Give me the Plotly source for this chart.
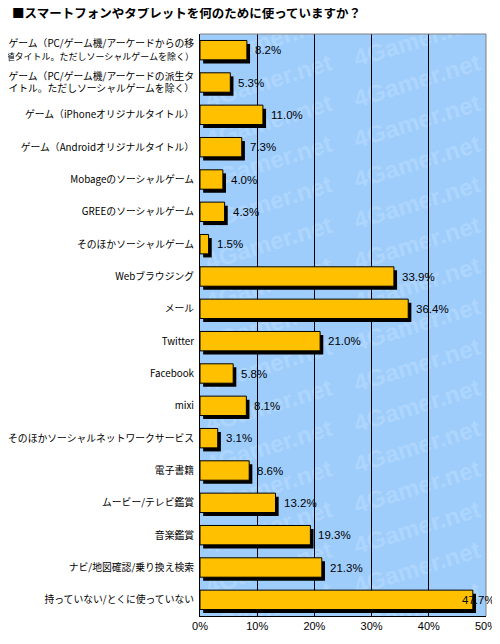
import plotly.graph_objects as go

title_text = "■スマートフォンやタブレットを何のために使っていますか？"
categories = [
    "ゲーム（PC/ゲーム機/アーケードからの移<br>植タイトル。ただしソーシャルゲームを除く）",
    "ゲーム（PC/ゲーム機/アーケードの派生タ<br>イトル。ただしソーシャルゲームを除く）",
    "ゲーム（iPhoneオリジナルタイトル）",
    "ゲーム（Androidオリジナルタイトル）",
    "Mobageのソーシャルゲーム",
    "GREEのソーシャルゲーム",
    "そのほかソーシャルゲーム",
    "Webブラウジング",
    "メール",
    "Twitter",
    "Facebook",
    "mixi",
    "そのほかソーシャルネットワークサービス",
    "電子書籍",
    "ムービー/テレビ鑑賞",
    "音楽鑑賞",
    "ナビ/地図確認/乗り換え検索",
    "持っていない/とくに使っていない",
]
values = [8.2, 5.3, 11.0, 7.3, 4.0, 4.3, 1.5, 33.9, 36.4, 21.0,
          5.8, 8.1, 3.1, 8.6, 13.2, 19.3, 21.3, 47.7]
tick_vals = [0, 10, 20, 30, 40, 50]
tick_text = ["0%", "10%", "20%", "30%", "40%", "50%"]
watermark_text = "4Gamer.net"

# style constants (page body has an 8px default margin, so figure is 492x636)
W, H = 492, 636
BAR_W = 0.6
SHADOW_DX = 0.55   # x units (~3px)
SHADOW_DY = 0.11   # category units (~3.5px)
BG = "#9ECDFC"
WM = "#ADD5FD"
BAR = "#FFC000"
NUM_FONT = "Liberation Sans Narrow, Liberation Sans, Arial"
JP_FONT = "Noto Sans CJK JP"

n = len(categories)


def em_width(s):
    return sum(0.55 if ord(ch) < 128 else 1.0 for ch in s)


def fit_label(label):
    # shrink very long lines slightly so they fit in the left margin
    out = []
    for p in label.split("<br>"):
        if em_width(p) > 20:
            out.append(f'<span style="font-size:9px">{p}</span>')
        else:
            out.append(p)
    return "<br>".join(out)


display_labels = [fit_label(c) for c in categories]

fig = go.Figure()

# shadow
fig.add_trace(go.Bar(
    orientation="h", y=categories, x=values, base=SHADOW_DX,
    width=BAR_W, offset=-BAR_W / 2 + SHADOW_DY,
    marker=dict(color="black", line=dict(width=0)),
    hoverinfo="skip", showlegend=False,
))
# main bars
fig.add_trace(go.Bar(
    orientation="h", y=categories, x=values,
    width=BAR_W, offset=-BAR_W / 2,
    marker=dict(color=BAR, line=dict(color="black", width=1)),
    showlegend=False,
))

# value labels
xmax = tick_vals[-1]
for c, v in zip(categories, values):
    if v > xmax * 0.9:
        fig.add_annotation(x=1.038, xref="paper", y=c, yref="y",
                           text=f"{v:.1f}%", showarrow=False, xanchor="right",
                           font=dict(family=NUM_FONT, size=11.5, color="black"))
    else:
        fig.add_annotation(x=v, y=c, text=f"{v:.1f}%", showarrow=False,
                           xanchor="left", xshift=6,
                           font=dict(family=NUM_FONT, size=11.5, color="black"))

# watermark (background decoration)
wm_cols = [11.9, 37.8]
k = 0
while -0.38 + 1.256 * k < n + 1:
    cy = -0.38 + 1.256 * k
    for cx in wm_cols:
        fig.add_shape(type="rect", xref="x", yref="y",
                      x0=cx - 0.5, x1=cx + 0.5, y0=cy - 0.05, y1=cy + 0.05,
                      line=dict(width=0), fillcolor="rgba(0,0,0,0)", layer="below",
                      label=dict(text=f"<b>{watermark_text}</b>", textangle=-17,
                                 textposition="middle center",
                                 font=dict(family="Liberation Sans",
                                           size=24, color=WM)))
    k += 1

# top and right gray border
fig.add_shape(type="line", xref="paper", yref="paper", x0=0, x1=1, y0=1, y1=1,
              line=dict(color="#808080", width=1), layer="above")
fig.add_shape(type="line", xref="paper", yref="paper", x0=1, x1=1, y0=0, y1=1,
              line=dict(color="#808080", width=1), layer="above")

fig.update_layout(
    width=W, height=H,
    margin=dict(l=192, r=14, t=26, b=28),
    paper_bgcolor="white", plot_bgcolor=BG,
    barmode="overlay",
    title=dict(text=f"<b>{title_text}</b>", x=4 / W, xanchor="left",
               xref="container", yref="container", y=1 - 6 / H, yanchor="middle",
               font=dict(family=JP_FONT, size=12.5, color="black")),
    xaxis=dict(range=[0, 50], tickvals=tick_vals, ticktext=tick_text,
               showgrid=True, gridcolor="black", gridwidth=1,
               showline=True, linecolor="black", linewidth=1,
               ticks="", zeroline=False, fixedrange=True, automargin=False,
               tickfont=dict(family=NUM_FONT, size=11, color="black")),
    yaxis=dict(range=[n - 0.5, -0.5], autorange=False, showgrid=False, showline=True,
               linecolor="black", linewidth=1, ticks="", ticklabelstandoff=3,
               automargin=False, fixedrange=True,
               tickmode="array", tickvals=categories, ticktext=display_labels,
               tickfont=dict(family=JP_FONT, size=9.8, color="black")),
)

fig.write_html("out.html")
